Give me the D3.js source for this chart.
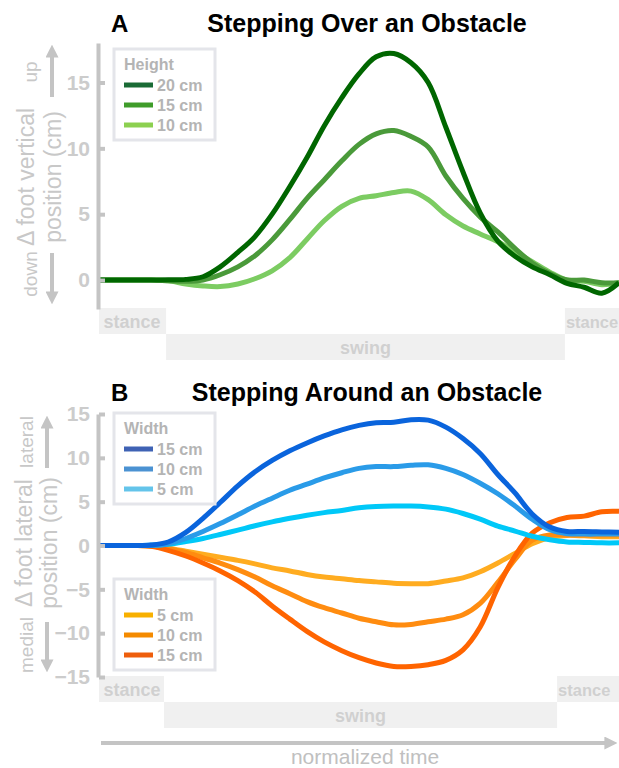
<!DOCTYPE html>
<html>
<head>
<meta charset="utf-8">
<script src="https://cdn.jsdelivr.net/npm/d3@7"></script>
<style>
  body { margin: 0; background: #fff; }
  svg { display: block; font-family: "Liberation Sans", Arial, sans-serif; }
</style>
</head>
<body>
<div id="chart"></div>
<script>
// normalized time (% of stride)
const time = [0, 3.3, 6.7, 10, 13.3, 16.7, 20, 23.3, 26.7, 30, 33.3, 36.7, 40, 43.3, 46.7, 50,
  53.3, 56.7, 60, 63.3, 66.7, 70, 73.3, 76.7, 80, 83.3, 86.7, 90, 93.3, 96.7, 100];

// A: vertical foot position (cm), by obstacle height
const height20 = [0, 0, 0, 0, 0.02, 0.05, 0.25, 1.0, 2.1, 3.3, 5.0, 7.1, 9.3, 11.7, 13.85, 15.65,
  16.95, 17.2, 16.5, 15.0, 11.6, 8.2, 5.1, 2.95, 1.8, 1.0, 0.4, -0.25, -0.55, -1.0, -0.2];
const height15 = [0, 0, 0, 0, -0.05, -0.1, 0.0, 0.4, 1.0, 1.85, 3.05, 4.6, 6.2, 7.6, 9.05, 10.3,
  11.1, 11.35, 10.9, 10.1, 7.9, 6.2, 4.8, 3.65, 2.4, 1.3, 0.5, 0.0, 0.0, -0.2, -0.2];
const height10 = [0, 0, 0, 0, -0.05, -0.3, -0.45, -0.5, -0.3, 0.1, 0.7, 1.7, 3.1, 4.5, 5.6, 6.2,
  6.4, 6.65, 6.75, 6.1, 4.95, 4.1, 3.5, 2.9, 2.15, 1.4, 0.6, 0.0, -0.1, -0.35, -0.2];

// B: lateral foot position (cm), by obstacle width
const lateral15 = [0, 0, 0, 0.05, 0.4, 1.5, 3.1, 4.9, 6.8, 8.4, 9.7, 10.8, 11.7, 12.5, 13.2, 13.7,
  14.0, 14.05, 14.35, 14.3, 13.5, 12.2, 10.5, 8.1, 6.0, 3.6, 2.1, 1.6, 1.6, 1.55, 1.5];
const lateral10 = [0, 0, 0, 0.02, 0.2, 0.8, 1.6, 2.5, 3.5, 4.5, 5.4, 6.3, 7.0, 7.7, 8.3, 8.8,
  9.0, 9.0, 9.15, 9.2, 8.8, 8.1, 7.1, 5.9, 4.5, 3.0, 1.8, 1.35, 1.3, 1.3, 1.3];
const lateral5 = [0, 0, 0, 0.02, 0.15, 0.45, 0.8, 1.25, 1.75, 2.25, 2.7, 3.1, 3.45, 3.75, 4.0, 4.3,
  4.45, 4.5, 4.5, 4.4, 4.15, 3.65, 3.0, 2.2, 1.65, 1.05, 0.65, 0.4, 0.35, 0.3, 0.3];
const medial5 = [0, 0, 0, -0.05, -0.3, -0.65, -1.0, -1.35, -1.7, -2.1, -2.55, -2.9, -3.3, -3.6, -3.8, -4.0,
  -4.15, -4.3, -4.35, -4.35, -4.05, -3.7, -3.0, -2.0, -0.9, 0.2, 0.9, 1.15, 1.1, 1.0, 1.0];
const medial10 = [0, 0, 0, -0.05, -0.35, -0.8, -1.4, -2.0, -2.75, -3.6, -4.6, -5.5, -6.4, -7.1, -7.7, -8.3,
  -8.7, -9.05, -9.0, -8.7, -8.4, -7.9, -6.6, -4.2, -1.6, 0.6, 1.2, 1.2, 1.2, 1.2, 1.2];
const medial15 = [0, 0, 0, -0.1, -0.55, -1.2, -2.0, -2.9, -4.0, -5.3, -6.9, -8.4, -9.8, -11.0, -12.0, -12.8,
  -13.4, -13.8, -13.8, -13.6, -13.1, -11.9, -9.3, -4.8, -1.2, 1.4, 2.6, 3.2, 3.35, 3.85, 3.9];

const heightLabels = ["20 cm", "15 cm", "10 cm"];
const lateralLabels = ["15 cm", "10 cm", "5 cm"];
const medialLabels = ["5 cm", "10 cm", "15 cm"];
const ticksA = [0, 5, 10, 15];
const ticksB = [-15, -10, -5, 0, 5, 10, 15];

// gait phases (start/end in % time)
const phasesA = [["stance", 0, 12.9, 0], ["swing", 12.9, 89.6, 1], ["stance", 89.6, 110, 0]];
const phasesB = [["stance", 0, 12.5, 0], ["swing", 12.5, 88.1, 1], ["stance", 88.1, 110, 0]];

const W = 619, H = 768;
const svg = d3.select("#chart").append("svg").attr("width", W).attr("height", H);
const grey = "#c4c4c4";

const defs = svg.append("defs");
defs.append("marker").attr("id", "head")
  .attr("viewBox", "0 0 10 10").attr("refX", 2).attr("refY", 5)
  .attr("markerWidth", 13).attr("markerHeight", 13).attr("markerUnits", "userSpaceOnUse")
  .attr("orient", "auto")
  .append("path").attr("d", "M0,0 L10,5 L0,10 Z").attr("fill", grey);

const x = d3.scaleLinear().domain([0, 100]).range([99, 619]);
const yA = d3.scaleLinear().domain([-2.2, 18]).range([309, 43]);
const yB = d3.scaleLinear().domain([-15, 15]).range([677, 414]);

function panel(o) {
  const g = svg.append("g");
  const y = o.y;

  // title
  g.append("text").attr("x", 111).attr("y", o.titleY).attr("font-size", 24).attr("font-weight", "bold")
    .text(o.letter);
  g.append("text").attr("x", 367).attr("y", o.titleY).attr("text-anchor", "middle")
    .attr("font-size", 25).attr("font-weight", "bold").text(o.title);

  // phase bars
  const r0 = y.range()[0];
  const rowH = 26;
  const ph = g.append("g");
  o.phases.forEach((p, i) => {
    const top = r0 + p[3] * rowH - 1;
    ph.append("rect").attr("x", x(p[1])).attr("y", top)
      .attr("width", x(p[2]) - x(p[1])).attr("height", rowH).attr("fill", "#f0f0f0");
    const t = ph.append("text").attr("y", top + 20)
      .attr("font-size", 18).attr("font-weight", "bold").attr("fill", "#d0d0d0").text(p[0]);
    if (p[0] === "swing") t.attr("x", x((p[1] + p[2]) / 2)).attr("text-anchor", "middle");
    else if (i === 0) t.attr("x", x(p[1]) + 33).attr("text-anchor", "middle");
    else t.attr("x", x(p[1]) + 1).attr("font-size", 16.5);
  });

  // curves
  const line = d3.line().x((d, i) => x(time[i])).y(d => y(d)).curve(d3.curveCatmullRom.alpha(0.5));
  o.series.forEach((s, i) => {
    g.append("path").datum(s).attr("d", line).attr("fill", "none")
      .attr("stroke", o.colors[i]).attr("stroke-width", 5).attr("stroke-linejoin", "round");
  });

  // axis
  const ax = g.append("g").attr("transform", "translate(98,0)")
    .call(d3.axisLeft(y).tickValues(o.ticks).tickSizeInner(-7).tickSizeOuter(0).tickPadding(8));
  ax.select(".domain").attr("stroke", grey).attr("stroke-width", 4);
  ax.selectAll(".tick line").attr("stroke", grey).attr("stroke-width", 4).attr("x1", 1);
  ax.selectAll(".tick text").attr("fill", "#cccccc").attr("font-size", 21).attr("font-weight", "bold")
    .attr("font-family", "Liberation Sans, Arial, sans-serif");

  // axis titles and direction arrows
  const lab = (txt, bx, cy, size) => g.append("text")
    .attr("transform", `translate(${bx},${cy}) rotate(-90)`).attr("text-anchor", "middle")
    .attr("font-size", size).attr("fill", "#c8c8c8").text(txt);
  lab(o.label1, o.lx1, o.lcy, 23);
  lab("position (cm)", o.lx2, o.lcy, 23);
  lab(o.up, o.dirX, o.upCy, 19);
  lab(o.down, o.dirX, o.downCy, 19);
  g.append("line").attr("x1", o.arrowX).attr("x2", o.arrowX).attr("y1", o.upArrow[0]).attr("y2", o.upArrow[1] + 11)
    .attr("stroke", grey).attr("stroke-width", 4).attr("marker-end", "url(#head)");
  g.append("line").attr("x1", o.arrowX).attr("x2", o.arrowX).attr("y1", o.downArrow[0]).attr("y2", o.downArrow[1] - 11)
    .attr("stroke", grey).attr("stroke-width", 4).attr("marker-end", "url(#head)");

  // legends
  o.legends.forEach(L => legend(g, 114, L.y0, L.title, L.labels, L.colors));
}

function legend(g, x0, y0, title, labels, colors) {
  const lg = g.append("g");
  lg.append("rect").attr("x", x0).attr("y", y0).attr("width", 101).attr("height", 91)
    .attr("fill", "#fff").attr("stroke", "#e4e5ea").attr("stroke-width", 3);
  lg.append("text").attr("x", x0 + 10).attr("y", y0 + 21).attr("font-size", 16).attr("font-weight", "bold")
    .attr("fill", "#b4b4b4").text(title);
  labels.forEach((t, i) => {
    const ly = y0 + 36 + i * 20;
    lg.append("line").attr("x1", x0 + 10).attr("x2", x0 + 39).attr("y1", ly).attr("y2", ly)
      .attr("stroke", colors[i]).attr("stroke-width", 5);
    lg.append("text").attr("x", x0 + 43).attr("y", ly + 6).attr("font-size", 16).attr("font-weight", "bold")
      .attr("fill", "#b4b4b4").text(t);
  });
}

const greens = ["#006600", "#4a9a3a", "#7ccc62"];
const blues = ["#0a64dc", "#2a9be8", "#00c8f8"];
const oranges = ["#ffac20", "#ff8c10", "#ff6400"];

panel({
  y: yA, letter: "A", title: "Stepping Over an Obstacle", titleY: 32, ticks: ticksA,
  phases: phasesA,
  series: [height10, height15, height20], colors: [greens[2], greens[1], greens[0]],
  label1: "\u0394 foot vertical", lx1: 34, lx2: 61, lcy: 177,
  up: "up", down: "down", dirX: 37, upCy: 72, downCy: 274,
  arrowX: 52, upArrow: [97, 44], downArrow: [253, 305],
  legends: [{y0: 49, title: "Height", labels: heightLabels, colors: ["#1a6b35", "#3f9c2a", "#8cd050"]}]
});

panel({
  y: yB, letter: "B", title: "Stepping Around an Obstacle", titleY: 401, ticks: ticksB,
  phases: phasesB,
  series: [medial5, medial10, medial15, lateral5, lateral10, lateral15],
  colors: [oranges[0], oranges[1], oranges[2], blues[2], blues[1], blues[0]],
  label1: "\u0394 foot lateral", lx1: 32, lx2: 57, lcy: 543,
  up: "lateral", down: "medial", dirX: 33, upCy: 442, downCy: 645,
  arrowX: 47, upArrow: [468, 415], downArrow: [622, 673],
  legends: [
    {y0: 413, title: "Width", labels: lateralLabels, colors: ["#3f62b4", "#4b92d2", "#64c4ea"]},
    {y0: 579, title: "Width", labels: medialLabels, colors: ["#f8b000", "#f48a00", "#ee5e0c"]}
  ]
});

// normalized time arrow
svg.append("line").attr("x1", x(0) + 2).attr("x2", x(100) - 12).attr("y1", 743).attr("y2", 743)
  .attr("stroke", grey).attr("stroke-width", 4).attr("marker-end", "url(#head)");
svg.append("text").attr("x", 365).attr("y", 764).attr("text-anchor", "middle")
  .attr("font-size", 21).attr("fill", "#c0c0c0").text("normalized time");
</script>
</body>
</html>
